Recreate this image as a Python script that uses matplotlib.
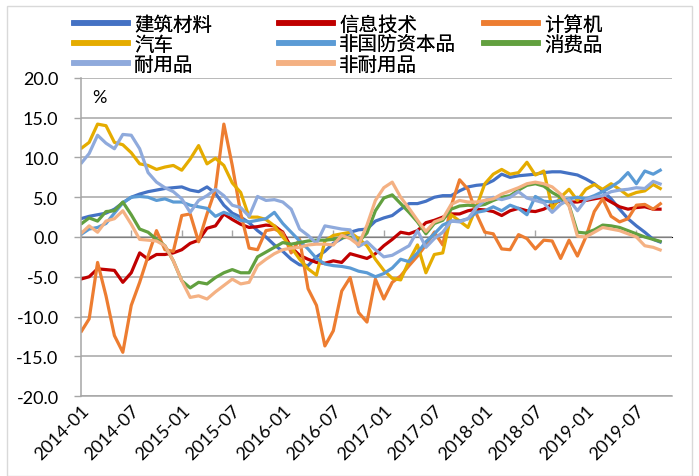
import numpy as np
import pandas as pd
import matplotlib
matplotlib.use('Agg')
import matplotlib.pyplot as plt
from matplotlib.lines import Line2D
from matplotlib.patches import Rectangle

## Data (YoY %, monthly 2014-01 .. 2019-10)

months = pd.date_range('2014-01', periods=70, freq='MS').strftime('%Y-%m').tolist()

jianzhu = [2.3, 2.6, 2.8, 3.0, 3.5, 4.3, 5.0, 5.4, 5.7, 5.9, 6.1, 6.2,
           6.3, 5.9, 5.7, 6.3, 5.5, 4.0, 3.0, 2.5, 1.8, 0.8, 0.0, -1.0,
           -1.8, -2.8, -3.5, -3.6, -2.5, -1.8, -0.8, -0.2, 0.6, 0.9, 1.0, 2.0,
           2.4, 2.7, 3.5, 4.2, 4.2, 4.5, 5.0, 5.2, 5.2, 5.8, 6.3, 6.5,
           6.6, 7.1, 7.9, 7.5, 7.7, 7.8, 7.9, 8.1, 8.2, 8.2, 8.0, 7.8,
           7.3, 6.7, 5.8, 4.8, 3.5, 2.3, 1.4, 0.6, -0.3, -0.7]
xinxi = [-5.3, -5.0, -4.0, -4.1, -4.2, -5.7, -4.5, -2.0, -2.8, -2.2, -2.2, -2.0,
         -1.6, -0.8, -0.4, 1.1, 1.4, 2.9, 2.2, 1.6, 1.2, 1.3, 1.5, 1.4,
         0.6, -1.3, -2.3, -2.8, -3.2, -3.3, -3.0, -3.2, -2.1, -2.4, -2.7, -2.1,
         -1.1, -0.3, 0.6, 0.4, 0.8, 1.8, 2.1, 2.5, 2.9, 2.9, 3.3, 3.5,
         3.4, 3.2, 2.7, 3.3, 3.6, 3.3, 3.2, 3.5, 4.1, 4.6, 4.4, 4.4,
         4.6, 4.8, 5.0, 4.4, 3.8, 3.5, 3.7, 3.8, 3.5, 3.5]
jisuanji = [-12.0, -10.3, -3.2, -7.4, -12.4, -14.5, -8.6, -5.7, -2.4, 0.8, -1.6, -1.8,
            2.7, 2.9, -0.6, 2.9, 6.0, 14.2, 9.0, 3.0, -1.4, -1.6, 0.8, 1.0,
            0.5, -2.0, -0.3, -6.5, -8.6, -13.7, -11.8, -6.8, -5.1, -9.5, -10.7, -5.3,
            -7.8, -5.7, -4.9, -3.6, -2.4, -1.0, 0.6, -1.0, 3.9, 7.2, 6.0, 2.9,
            0.6, 0.4, -1.5, -1.6, 0.3, -0.2, -1.5, -0.4, -0.5, -2.7, -0.4, -2.4,
            0.0, 3.2, 4.8, 2.6, 1.9, 2.3, 4.0, 4.1, 3.5, 4.3]
qiche = [11.1, 11.9, 14.2, 14.0, 11.9, 11.6, 10.6, 9.2, 9.0, 8.5, 8.8, 9.0,
         8.4, 9.8, 11.5, 9.2, 9.9, 9.0, 6.8, 5.6, 2.5, 2.5, 2.2, 1.4,
         0.0, -1.3, -2.8, -4.0, -4.8, -0.5, 0.2, 0.4, 0.6, -0.2, -1.1, -2.8,
         -4.2, -5.2, -5.4, -3.0, -1.0, -4.5, -2.2, -2.0, 2.8, 2.0, 1.2, 3.8,
         6.7, 7.9, 8.5, 7.9, 8.1, 9.4, 7.8, 8.3, 3.6, 5.0, 6.0, 4.6,
         6.0, 6.6, 6.0, 6.7, 6.0, 5.2, 5.6, 5.8, 6.6, 6.0]
feiguofang = [0.3, 1.0, 1.2, 1.7, 3.0, 4.3, 5.0, 5.1, 5.0, 4.6, 4.8, 4.4,
              4.4, 4.0, 3.8, 3.6, 2.6, 3.1, 2.7, 2.1, 1.9, 2.1, 2.3, 3.1,
              1.7, 0.6, -0.5, -1.5, -2.7, -3.4, -3.6, -3.7, -3.9, -4.3, -4.5, -5.0,
              -4.6, -3.9, -2.8, -3.1, -2.0, -0.6, 0.4, 1.5, 2.0, 2.0, 2.3, 3.1,
              3.3, 3.8, 3.3, 4.0, 3.6, 2.8, 5.1, 4.5, 4.4, 4.6, 4.8, 5.0,
              4.8, 5.2, 5.7, 6.3, 7.0, 8.1, 6.7, 8.3, 7.9, 8.5]
xiaofei = [1.6, 2.4, 2.0, 3.2, 3.3, 4.4, 2.8, 1.0, 0.6, -0.3, -1.1, -3.0,
           -5.5, -6.4, -5.7, -5.9, -5.1, -4.5, -4.1, -4.5, -4.5, -2.5, -1.9, -1.3,
           -0.7, -0.9, -0.7, -0.5, -0.4, -0.4, -0.3, -0.1, 0.0, -0.6, 0.5, 3.3,
           4.9, 5.3, 4.2, 3.1, 1.9, 0.4, 1.7, 2.1, 3.5, 3.9, 4.0, 3.9,
           4.1, 4.6, 5.0, 5.2, 5.9, 6.5, 6.7, 6.4, 5.6, 5.0, 4.0, 0.6,
           0.5, 0.9, 1.5, 1.4, 1.2, 0.8, 0.4, 0.0, -0.3, -0.6]
naiyong = [9.2, 10.5, 12.8, 11.8, 11.1, 12.9, 12.8, 11.1, 8.1, 6.9, 6.2, 5.7,
           4.8, 3.1, 4.6, 5.2, 6.0, 5.2, 4.0, 3.7, 2.6, 5.1, 4.6, 4.7,
           4.4, 3.5, 1.0, 0.2, -0.8, 1.4, 1.2, 1.0, 0.9, -1.2, -0.6, -1.6,
           -2.5, -2.3, -1.7, -1.1, 0.8, -1.3, -0.2, 0.6, 2.0, 1.9, 2.3, 3.7,
           4.6, 5.0, 4.7, 5.0, 5.7, 4.9, 4.6, 4.3, 3.1, 4.1, 4.7, 3.3,
           4.7, 5.0, 5.2, 5.7, 5.9, 6.0, 6.2, 6.1, 7.0, 6.6]
feinaiyong = [0.4, 1.4, 0.6, 2.0, 2.3, 3.3, 1.6, -0.3, -0.4, -0.5, -1.1, -3.0,
              -5.5, -7.6, -7.4, -7.8, -6.9, -6.1, -5.3, -5.9, -5.7, -3.6, -2.8, -2.1,
              -1.6, -1.4, -1.3, -1.0, -0.9, -0.9, -1.0, 0.2, -0.2, -1.0, 1.5, 4.6,
              6.2, 6.9, 5.0, 3.6, 2.1, 0.7, 1.9, 2.3, 4.1, 4.6, 4.4, 4.4,
              4.6, 4.8, 5.4, 5.8, 6.2, 6.7, 6.9, 6.7, 6.3, 5.4, 3.9, 0.1,
              0.0, 0.6, 1.2, 1.0, 0.8, 0.4, 0.0, -1.1, -1.3, -1.7]

names = ['建筑材料', '信息技术', '计算机', '汽车', '非国防资本品', '消费品', '耐用品', '非耐用品']
series = [jianzhu, xinxi, jisuanji, qiche, feiguofang, xiaofei, naiyong, feinaiyong]
colors = ['#4472C4', '#C00000', '#ED7D31', '#E5AC00', '#5B9BD5', '#62A03F', '#8FAADC', '#F4B183']

## Plot

fig = plt.figure(figsize=(6.99, 4.77), dpi=100)
ax = fig.add_axes([0.1155, 0.1677, 0.8455, 0.6667])

x = np.arange(len(months))
for vals, c, n in zip(series, colors, names):
    ax.plot(x, vals, color=c, lw=2.3, label=n, solid_capstyle='butt')

ax.set_xlim(0, 70.2)
ax.set_ylim(-20, 20)
ax.set_yticks(np.arange(-20, 21, 5))
ax.set_yticklabels(['%.1f' % v for v in np.arange(-20, 21, 5)], fontfamily='Lato', fontsize=13)
ax.grid(axis='y', color='#a6a6a6', lw=1.1)
ax.set_axisbelow(True)

# month labels every 6 months, at the bottom
ticks = x[::6]
ax.set_xticks(ticks)
ax.set_xticklabels([months[i] for i in ticks], rotation=45, ha='right', va='top',
                   rotation_mode='anchor', fontfamily='Lato', fontsize=13)
ax.tick_params(axis='x', length=0, pad=4)
ax.tick_params(axis='y', length=5, width=1, color='#a6a6a6', pad=11)

for s in ['top', 'right']:
    ax.spines[s].set_visible(False)
ax.spines['left'].set_color('#a6a6a6')
ax.spines['bottom'].set_color('#a6a6a6')
ax.spines['left'].set_linewidth(1.1)
ax.spines['bottom'].set_linewidth(1.1)

# x axis line with tick marks crosses at 0
sec = ax.secondary_xaxis(0.5)
sec.set_xticks(ticks)
sec.set_xticklabels([])
sec.tick_params(length=5, width=1, color='#a6a6a6')
sec.spines['bottom'].set_color('#a6a6a6')
sec.spines['bottom'].set_linewidth(1.1)

ax.text(0.02, 0.94, '%', transform=ax.transAxes, fontsize=13, fontfamily='Lato', va='center')

# legend: three columns placed separately
cols = [[0, 3, 6], [1, 4, 7], [2, 5]]
col_x = [74, 279, 484]
for cx, idx in zip(col_x, cols):
    handles = [Line2D([], [], color=colors[i], lw=4) for i in idx]
    leg = fig.legend(handles, [names[i] for i in idx], loc='upper left',
                     bbox_to_anchor=(cx / 699, 1 - 15 / 477), frameon=False,
                     prop={'family': 'Noto Sans CJK SC', 'size': 14},
                     handlelength=2.8, handletextpad=0.3, labelspacing=-0.05,
                     borderpad=0, borderaxespad=0)
    fig.add_artist(leg)

fig.patches.append(Rectangle((7 / 699, 0), 685 / 699, 1 - 7 / 477, transform=fig.transFigure,
                             fill=False, edgecolor='#d9d9d9', lw=1))

plt.savefig('out.png', dpi=100)
